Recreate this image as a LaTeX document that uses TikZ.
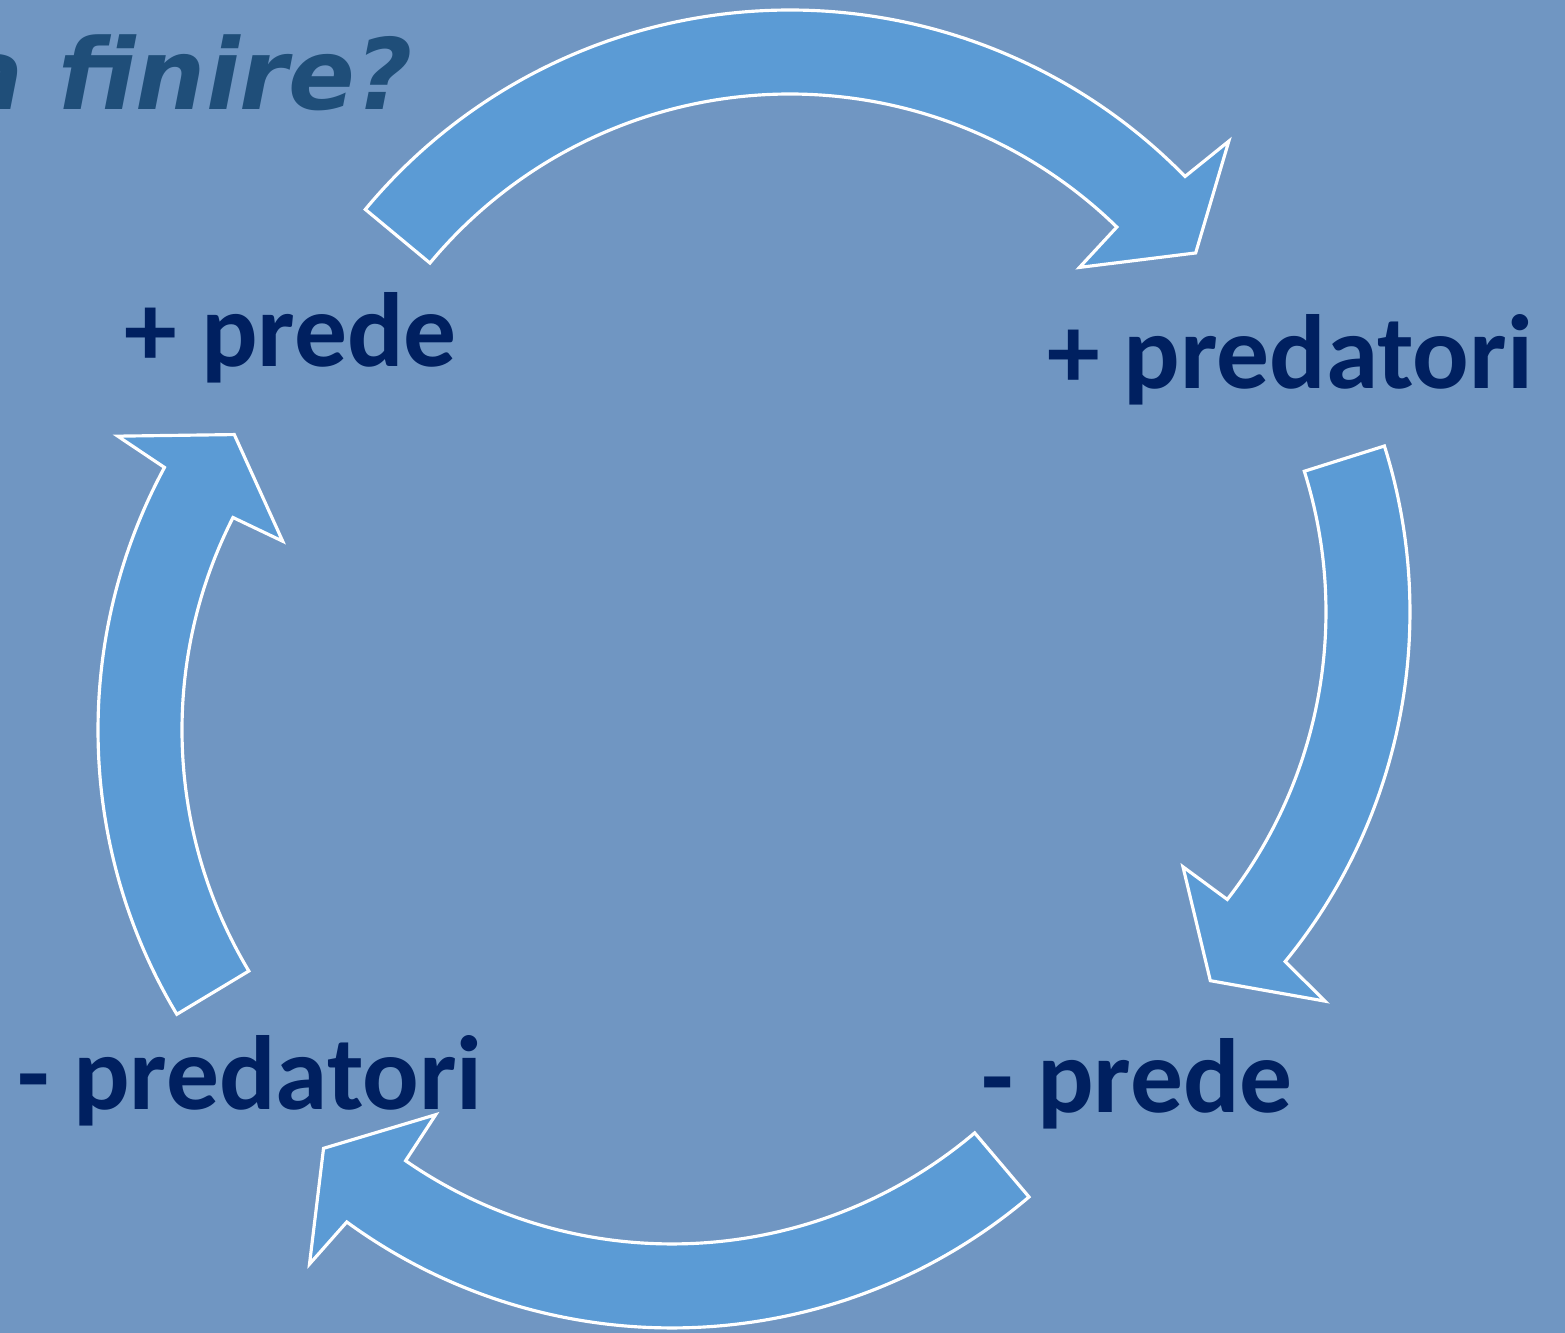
\documentclass[tikz,border=0pt]{standalone}
\usepackage{fontspec}
\setmainfont{Carlito}
\newfontfamily\titlefont{DejaVu Sans}
\usetikzlibrary{positioning}
\definecolor{slidebg}{RGB}{112,150,194}
\definecolor{arrowblue}{RGB}{91,155,213}
\definecolor{labelnavy}{RGB}{0,32,96}
\definecolor{titleblue}{RGB}{31,78,121}
% circular arrow: center, tail angle, outer notch angle (clockwise)
\newcommand{\cyclearrow}[3]{%
  \filldraw[cyclearrowstyle, shift={(#1)}]
    (#2:552) arc[start angle=#2, end angle=#3, radius=552]
    -- ({#3-0.5}:608) -- ({#3-7}:510) -- ({#3+1.2}:413) -- ({#3+1.4}:468)
    arc[start angle={#3+1.4}, end angle=#2, radius=468] -- cycle;}

\begin{document}
\begin{tikzpicture}[x=0.01cm, y=0.01cm,
    cyclearrowstyle/.style={fill=arrowblue, draw=white, line width=0.9pt, line join=miter},
    label/.style={font=\fontsize{30}{36}\selectfont\bfseries, text=labelnavy, inner sep=0pt, anchor=base}]
  \useasboundingbox[fill=slidebg] (0,0) rectangle (1565,1333);

  \coordinate (ctop) at (790,771);
  \coordinate (cright) at (858,721);
  \coordinate (cbottom) at (672,557);
  \coordinate (cleft) at (650,603);

  \cyclearrow{ctop}{140.3}{44.3}
  \cyclearrow{cright}{17.5}{-39.3}
  \cyclearrow{cbottom}{310.3}{233.9}
  \cyclearrow{cleft}{211}{151.6}

  \node[label] (preyup) at (291,966) {+ prede};
  \node[label] (predup) at (1290,944) {+ predatori};
  \node[label] (preydown) at (1137,220) {- prede};
  \node[label] (preddown) at (250,223) {- predatori};

  \node[font=\titlefont\fontsize{28}{34}\selectfont\bfseries\itshape, text=titleblue,
    inner sep=0pt, anchor=base east] (title) at (413,1223) {a finire?};
\end{tikzpicture}
\end{document}
